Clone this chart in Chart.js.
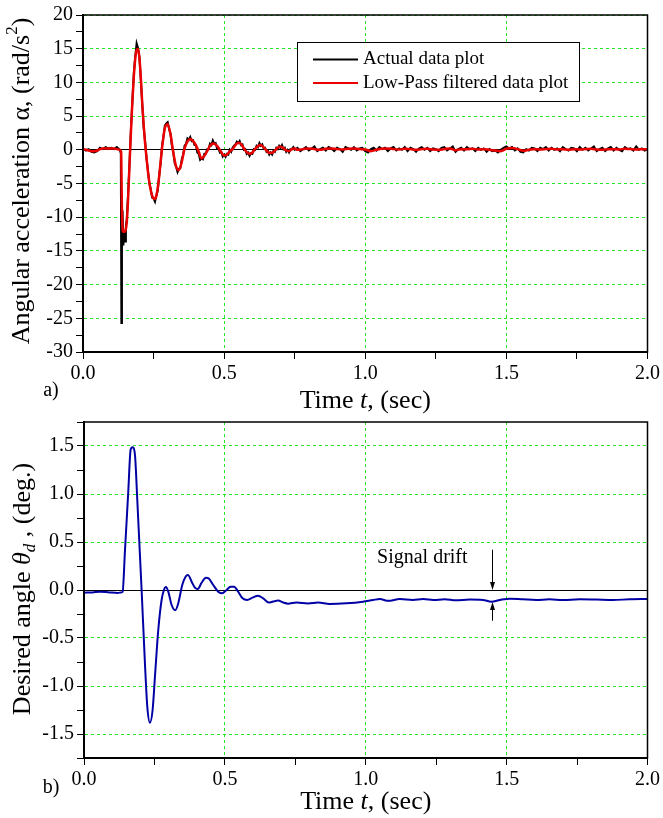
<!DOCTYPE html>
<html>
<head>
<meta charset="utf-8">
<script src="https://cdn.jsdelivr.net/npm/chart.js@4.4.0/dist/chart.umd.min.js"></script>
<style>
  body { margin: 0; background: #fff; }
  #wrap { position: relative; width: 663px; height: 818px; }
  canvas { position: absolute; left: 0; }
  #accelChart { top: 0; }
  #angleChart { top: 400px; }
</style>
</head>
<body>
<div id="wrap">
  <canvas id="accelChart" width="663" height="415"></canvas>
  <canvas id="angleChart" width="663" height="418"></canvas>
</div>
<script>
// Tick labels
const timeLabels = ['0.0', '0.5', '1.0', '1.5', '2.0'];
const accelLabels = ['-30', '-25', '-20', '-15', '-10', '-5', '0', '5', '10', '15', '20'];
const angleLabels = ['-1.5', '-1.0', '-0.5', '0.0', '0.5', '1.0', '1.5'];

// a) actual (raw) angular acceleration, rad/s^2
const actualTime = [
  0.00, 0.01, 0.02, 0.03, 0.04, 0.05, 0.06, 0.07, 0.08, 0.09, 0.10, 0.11, 0.12, 0.13,
  0.134, 0.136, 0.138, 0.140, 0.143, 0.146, 0.149, 0.152, 0.155,
  0.160, 0.165, 0.170, 0.175, 0.180, 0.185, 0.190, 0.195, 0.200, 0.205,
  0.210, 0.215, 0.220, 0.225, 0.230, 0.235, 0.240, 0.245, 0.250, 0.255,
  0.260, 0.265, 0.270, 0.275, 0.280, 0.285, 0.290, 0.295, 0.300, 0.305,
  0.310, 0.315, 0.320, 0.325, 0.330, 0.335, 0.340, 0.345, 0.350, 0.355,
  0.360, 0.365, 0.370, 0.375, 0.380, 0.385, 0.390, 0.395, 0.400, 0.405,
  0.410, 0.415, 0.420, 0.425, 0.430, 0.435, 0.440, 0.445, 0.450, 0.455,
  0.460, 0.465, 0.470, 0.475, 0.480, 0.485, 0.490, 0.495, 0.500, 0.505,
  0.510, 0.515, 0.520, 0.525, 0.530, 0.535, 0.540, 0.545, 0.550, 0.555,
  0.560, 0.565, 0.570, 0.575, 0.580, 0.585, 0.590, 0.595, 0.600, 0.605,
  0.610, 0.615, 0.620, 0.625, 0.630, 0.635, 0.640, 0.645, 0.650, 0.655,
  0.660, 0.665, 0.670, 0.675, 0.680, 0.685, 0.690, 0.695, 0.700, 0.705,
  0.710, 0.715, 0.720, 0.725, 0.730, 0.735, 0.740, 0.745, 0.750,
  0.76, 0.77, 0.78, 0.79, 0.80, 0.81, 0.82, 0.83, 0.84, 0.85,
  0.86, 0.87, 0.88, 0.89, 0.90, 0.91, 0.92, 0.93, 0.94, 0.95,
  0.96, 0.97, 0.98, 0.99, 1.00, 1.01, 1.02, 1.03, 1.04, 1.05,
  1.06, 1.07, 1.08, 1.09, 1.10, 1.11, 1.12, 1.13, 1.14, 1.15,
  1.16, 1.17, 1.18, 1.19, 1.20, 1.21, 1.22, 1.23, 1.24, 1.25,
  1.26, 1.27, 1.28, 1.29, 1.30, 1.31, 1.32, 1.33, 1.34, 1.35,
  1.36, 1.37, 1.38, 1.39, 1.40, 1.41, 1.42, 1.43, 1.44, 1.45,
  1.46, 1.47, 1.48, 1.49, 1.50, 1.51, 1.52, 1.53, 1.54, 1.55,
  1.56, 1.57, 1.58, 1.59, 1.60, 1.61, 1.62, 1.63, 1.64, 1.65,
  1.66, 1.67, 1.68, 1.69, 1.70, 1.71, 1.72, 1.73, 1.74, 1.75,
  1.76, 1.77, 1.78, 1.79, 1.80, 1.81, 1.82, 1.83, 1.84, 1.85,
  1.86, 1.87, 1.88, 1.89, 1.90, 1.91, 1.92, 1.93, 1.94, 1.95,
  1.96, 1.97, 1.98, 1.99, 2.00
];
const actualAccel = [
  0.2, -0.1, 0.1, -0.3, -0.4, -0.2, 0.3, 0.1, 0.4, 0.2, 0.3, 0.1, 0.4, 0.0,
  -0.5, -25.7, -11.5, -9.0, -14.2, -12.3, -13.6, -11.2, -10.4,
  -6.3, -1.8, 3.2, 7.3, 11.4, 13.8, 15.8, 15.1, 13.7, 10.3,
  6.7, 3.3, 1.2, -1.2, -3.0, -5.0, -5.8, -7.1, -7.2, -7.7,
  -6.8, -6.0, -3.8, -2.0, 0.6, 2.0, 3.6, 3.9, 4.1, 3.1,
  2.4, 0.6, -0.4, -2.0, -2.5, -3.3, -2.8, -2.7, -1.4, -0.7,
  0.6, 0.9, 1.7, 1.5, 1.9, 1.3, 1.4, 0.7, 0.7, -0.4,
  -0.6, -1.5, -1.3, -1.4, -0.6, -0.6, 0.1, 0.1, 0.9, 0.7,
  1.4, 0.9, 1.0, 0.2, 0.2, -0.4, -0.3, -1.0, -0.7, -1.05,
  -0.6, -0.7, 0.0, -0.3, 0.3, 0.6, 0.8, 1.2, 1.0, 1.3,
  0.7, 0.8, 0.0, 0.1, -0.6, -0.4, -0.9, -0.5, -0.6, 0.1,
  0.0, 0.6, 0.4, 1.0, 0.6, 0.8, 0.2, 0.3, -0.3, -0.1,
  -0.7, -0.4, -0.7, -0.1, -0.3, 0.3, 0.1, 0.6, 0.3, 0.7,
  0.1, 0.3, -0.3, 0.0, -0.4, 0.1, 0.1, 0.4, 0.0,
  0.3, -0.2, 0.1, 0.4, -0.1, 0.2, 0.5, -0.2, 0.1, 0.3,
  -0.1, 0.4, 0.2, -0.2, 0.3, 0.1, -0.3, 0.4, 0.2, 0.0,
  0.4, -0.1, 0.2, 0.3, -0.2, -0.4, 0.1, 0.3, -0.1, 0.4,
  0.1, 0.3, -0.2, 0.2, 0.4, -0.1, 0.2, 0.0, 0.4, -0.2,
  0.3, 0.1, -0.3, 0.2, 0.4, 0.0, 0.3, -0.2, 0.2, 0.1,
  -0.2, 0.3, 0.4, -0.1, 0.2, 0.5, -0.3, 0.1, 0.3, -0.1,
  0.4, 0.1, 0.2, -0.2, 0.3, 0.0, 0.2, -0.3, 0.1, -0.2,
  -0.1, -0.4, 0.0, 0.3, 0.5, 0.2, 0.4, -0.1, 0.2, -0.3,
  -0.4, 0.1, -0.1, 0.3, 0.2, -0.2, 0.3, 0.1, 0.4, -0.1,
  0.3, 0.0, 0.2, -0.2, 0.4, 0.1, -0.1, 0.3, 0.2, -0.2,
  0.4, 0.0, 0.3, -0.1, 0.2, 0.5, -0.2, 0.1, 0.3, -0.2,
  0.2, 0.4, -0.1, 0.3, 0.0, -0.2, 0.4, 0.1, 0.2, -0.1,
  0.5, 0.0, 0.2, -0.1, 0.1
];

// a) low-pass filtered angular acceleration
const filteredTime = [
  0.00, 0.01, 0.02, 0.03, 0.04, 0.05, 0.06, 0.07, 0.08, 0.09, 0.10, 0.11, 0.12, 0.13,
  0.135, 0.138, 0.141, 0.145, 0.150, 0.155, 0.160, 0.165, 0.170, 0.175,
  0.180, 0.185, 0.190, 0.195, 0.200, 0.205, 0.210, 0.215, 0.220, 0.225,
  0.230, 0.235, 0.240, 0.245, 0.250, 0.255, 0.260, 0.265, 0.270, 0.275,
  0.28, 0.29, 0.30, 0.31, 0.32, 0.33, 0.34, 0.35, 0.36, 0.37,
  0.38, 0.39, 0.40, 0.41, 0.42, 0.43, 0.44, 0.45, 0.46, 0.47,
  0.48, 0.49, 0.50, 0.51, 0.52, 0.53, 0.54, 0.55, 0.56, 0.57,
  0.58, 0.59, 0.60, 0.61, 0.62, 0.63, 0.64, 0.65, 0.66, 0.67,
  0.68, 0.69, 0.70, 0.71, 0.72, 0.73, 0.74, 0.75,
  0.76, 0.78, 0.80, 0.82, 0.84, 0.86, 0.88, 0.90, 0.92, 0.94,
  0.96, 0.98, 1.00, 1.02, 1.04, 1.06, 1.08, 1.10, 1.12, 1.14,
  1.16, 1.18, 1.20, 1.22, 1.24, 1.26, 1.28, 1.30, 1.32, 1.34,
  1.36, 1.38, 1.40, 1.42, 1.44, 1.46, 1.48, 1.50, 1.52, 1.54,
  1.56, 1.58, 1.60, 1.62, 1.64, 1.66, 1.68, 1.70, 1.72, 1.74,
  1.76, 1.78, 1.80, 1.82, 1.84, 1.86, 1.88, 1.90, 1.92, 1.94,
  1.96, 1.98, 2.00
];
const filteredAccel = [
  0.1, 0.0, -0.1, -0.2, -0.2, -0.1, 0.1, 0.2, 0.2, 0.2, 0.2, 0.2, 0.1, 0.0,
  -0.3, -9.0, -12.0, -12.2, -12.0, -10.8, -7.0, -2.0, 2.8, 7.2,
  10.8, 13.5, 14.8, 15.0, 13.6, 10.6, 6.8, 3.6, 1.0, -1.2,
  -3.2, -4.8, -6.0, -6.8, -7.2, -7.3, -6.8, -5.6, -3.9, -1.8,
  0.2, 3.2, 3.8, 2.3, -0.4, -2.5, -3.0, -1.8, 0.2, 1.2,
  1.6, 1.3, 0.7, -0.3, -1.3, -0.9, -0.2, 0.6, 0.95, 0.8,
  0.3, -0.4, -0.85, -0.7, -0.25, 0.1, 0.7, 1.05, 0.85, 0.2,
  -0.35, -0.6, -0.4, 0.15, 0.55, 0.72, 0.35, -0.1, -0.45, -0.45,
  -0.1, 0.3, 0.45, 0.25, -0.1, -0.2, 0.1, 0.2,
  0.0, 0.1, 0.2, 0.1, 0.0, 0.15, 0.2, 0.1, 0.05, 0.15,
  0.2, 0.1, 0.05, -0.2, 0.0, 0.15, 0.2, 0.1, 0.05, 0.15,
  0.1, 0.0, 0.1, 0.15, 0.05, 0.0, 0.1, 0.2, -0.05, 0.1,
  0.1, 0.15, 0.05, 0.1, 0.0, -0.1, -0.2, 0.15, 0.25, 0.1,
  -0.15, 0.0, 0.1, 0.05, 0.1, 0.15, 0.05, 0.1, 0.0, 0.1,
  0.05, 0.1, 0.15, 0.05, 0.0, 0.1, 0.1, 0.05, 0.15, 0.1,
  0.05, 0.1, 0.05
];

// b) desired angle, deg
const angleTime = [
  0.000, 0.030, 0.057, 0.090, 0.120, 0.132, 0.137, 0.1454, 0.1572, 0.1655,
  0.1726, 0.1809, 0.1891, 0.2045, 0.2163, 0.2246, 0.234, 0.2435, 0.2518, 0.2636,
  0.2754, 0.2837, 0.2908, 0.2991, 0.311, 0.324, 0.3345, 0.3487, 0.3605, 0.369,
  0.382, 0.3936, 0.404, 0.4173, 0.4326, 0.443, 0.4586, 0.4764, 0.490, 0.506,
  0.520, 0.533, 0.547, 0.563, 0.579, 0.598, 0.618, 0.636, 0.656, 0.671,
  0.689, 0.7068, 0.724, 0.754, 0.795, 0.831, 0.872, 0.931, 0.990, 1.026,
  1.050, 1.080, 1.121, 1.167, 1.204, 1.240, 1.280, 1.320, 1.369, 1.416,
  1.446, 1.476, 1.511, 1.558, 1.605, 1.652, 1.700, 1.759, 1.818, 1.877,
  1.936, 2.000
];
const angleDeg = [
  -0.028, -0.025, -0.018, -0.025, -0.030, -0.025, -0.020, 0.41, 1.03, 1.46,
  1.486, 1.406, 0.94, 0.0, -0.764, -1.215, -1.382, -1.25, -0.903, -0.417,
  -0.104, 0.0, 0.03, -0.017, -0.156, -0.21, -0.139, 0.052, 0.139, 0.156,
  0.087, 0.024, 0.01, 0.076, 0.128, 0.12, 0.052, -0.017, -0.035, 0.0,
  0.035, 0.035, -0.017, -0.087, -0.104, -0.08, -0.059, -0.087, -0.13, -0.12,
  -0.11, -0.13, -0.142, -0.13, -0.14, -0.13, -0.146, -0.139, -0.122, -0.104,
  -0.094, -0.113, -0.094, -0.104, -0.094, -0.104, -0.097, -0.108, -0.10, -0.104,
  -0.122, -0.104, -0.09, -0.097, -0.104, -0.097, -0.104, -0.097, -0.10, -0.104,
  -0.097, -0.094
];

// signal drift marker (time, sec)
const driftTime = 1.447;

const SERIF = '"Liberation Serif", "Times New Roman", Times, serif';
const GRID_GREEN = 'rgb(40, 228, 40)';

function onStep(v, step) {
  return Math.abs(v / step - Math.round(v / step)) < 1e-6;
}

function toPoints(xs, ys) {
  return xs.map((x, i) => ({ x: x, y: ys[i] }));
}

// linear axis: minor ticks, green dashed grid on majors, solid zero line
function makeAxis(min, max, minor, major, labels, first, fit) {
  return {
    type: 'linear',
    min: min,
    max: max,
    ticks: {
      stepSize: minor,
      autoSkip: false,
      maxRotation: 0,
      padding: 3,
      color: '#000',
      font: { family: SERIF, size: 20 },
      callback: (v) => onStep(v, major) ? labels[Math.round((v - first) / major)] : ''
    },
    grid: {
      color: (c) => {
        if (!c.tick) return '#000';
        if (Math.abs(c.tick.value) < 1e-9) return '#000';
        return onStep(c.tick.value, major) ? GRID_GREEN : 'rgba(0,0,0,0)';
      },
      lineWidth: 1,
      tickLength: 7,
      tickColor: '#000',
      tickWidth: 1
    },
    border: {
      color: '#000',
      width: 2,
      dash: (c) => (c.tick && Math.abs(c.tick.value) < 1e-9) ? [] : [3, 3]
    },
    afterFit: fit
  };
}

// text with italic / sub / sup pieces
function drawRich(ctx, parts, cx, cy, size, rotate) {
  ctx.save();
  ctx.translate(cx, cy);
  if (rotate) ctx.rotate(-Math.PI / 2);
  ctx.textBaseline = 'middle';
  ctx.textAlign = 'left';
  ctx.fillStyle = '#000';
  const fontOf = (p) => (p.italic ? 'italic ' : '') + Math.round(p.sup || p.sub ? size * 0.65 : size) + 'px ' + SERIF;
  let total = 0;
  parts.forEach((p) => { ctx.font = fontOf(p); total += ctx.measureText(p.text).width; });
  let x = -total / 2;
  parts.forEach((p) => {
    ctx.font = fontOf(p);
    const dy = p.sup ? -size * 0.38 : (p.sub ? size * 0.28 : 0);
    ctx.fillText(p.text, x, dy);
    x += ctx.measureText(p.text).width;
  });
  ctx.restore();
}

const richLabels = {
  id: 'richLabels',
  afterDraw(chart, args, opts) {
    const ctx = chart.ctx;
    const area = chart.chartArea;
    drawRich(ctx, opts.yTitle, opts.yTitleX, opts.yTitleY, opts.size, true);
    drawRich(ctx, opts.xTitle, (area.left + area.right) / 2, opts.xTitleY, opts.size, false);
    ctx.save();
    ctx.font = '20px ' + SERIF;
    ctx.fillStyle = '#000';
    ctx.textAlign = 'center';
    ctx.textBaseline = 'middle';
    ctx.fillText(opts.tag, opts.tagX, opts.tagY);
    ctx.restore();
  }
};

const frameBox = {
  id: 'frameBox',
  afterDraw(chart) {
    const { ctx, chartArea: a } = chart;
    ctx.save();
    ctx.strokeStyle = '#000';
    ctx.lineWidth = 1.5;
    ctx.strokeRect(a.left, a.top, a.right - a.left, a.bottom - a.top);
    ctx.restore();
  }
};

const boxLegend = {
  id: 'boxLegend',
  afterDraw(chart) {
    const ctx = chart.ctx;
    const left = 297, top = 42, w = 282, h = 59;
    ctx.save();
    ctx.fillStyle = '#fff';
    ctx.fillRect(left, top, w, h);
    ctx.strokeStyle = '#000';
    ctx.lineWidth = 1;
    ctx.strokeRect(left + 0.5, top + 0.5, w, h);
    chart.data.datasets.forEach((ds, i) => {
      const ly = 59.5 + i * 23.5;
      ctx.strokeStyle = ds.borderColor;
      ctx.lineWidth = 2;
      ctx.beginPath();
      ctx.moveTo(313, ly);
      ctx.lineTo(358, ly);
      ctx.stroke();
      ctx.fillStyle = '#000';
      ctx.font = '19px ' + SERIF;
      ctx.textBaseline = 'middle';
      ctx.fillText(ds.label, 363, ly);
    });
    ctx.restore();
  }
};

function arrow(ctx, x, from, to) {
  const dir = Math.sign(to - from);
  ctx.beginPath();
  ctx.moveTo(x, from);
  ctx.lineTo(x, to - dir * 6);
  ctx.stroke();
  ctx.beginPath();
  ctx.moveTo(x, to);
  ctx.lineTo(x - 2.5, to - dir * 8);
  ctx.lineTo(x + 2.5, to - dir * 8);
  ctx.closePath();
  ctx.fill();
}

const driftNote = {
  id: 'driftNote',
  afterDatasetsDraw(chart) {
    const { ctx, scales: { x, y } } = chart;
    const ax = Math.round(x.getPixelForValue(driftTime)) + 0.5;
    ctx.save();
    ctx.fillStyle = '#000';
    ctx.strokeStyle = '#000';
    ctx.lineWidth = 1;
    ctx.font = '20px ' + SERIF;
    ctx.textBaseline = 'alphabetic';
    ctx.fillText('Signal drift', x.getPixelForValue(1.04), y.getPixelForValue(0.28));
    arrow(ctx, ax, y.getPixelForValue(0.42), y.getPixelForValue(0));
    arrow(ctx, ax, y.getPixelForValue(-0.32), y.getPixelForValue(-0.125));
    ctx.restore();
  }
};

const timeTitle = [{ text: 'Time ' }, { text: 't', italic: true }, { text: ', (sec)' }];

// a) angular acceleration
new Chart(document.getElementById('accelChart'), {
  type: 'line',
  data: {
    datasets: [{
      label: 'Actual data plot',
      data: toPoints(actualTime, actualAccel),
      borderColor: '#000',
      borderWidth: 2,
      pointRadius: 0,
      tension: 0,
      order: 2
    }, {
      label: 'Low-Pass filtered data plot',
      data: toPoints(filteredTime, filteredAccel),
      borderColor: 'rgb(235, 0, 0)',
      borderWidth: 2.5,
      pointRadius: 0,
      cubicInterpolationMode: 'monotone',
      order: 1
    }]
  },
  options: {
    responsive: false,
    animation: false,
    events: [],
    layout: { padding: { top: 14, right: 14, left: 0, bottom: 0 } },
    scales: {
      x: makeAxis(0, 2, 0.25, 0.5, timeLabels, 0, (s) => { s.height = 63; }),
      y: makeAxis(-30, 20, 2.5, 5, accelLabels, -30, (s) => { s.width = 83; })
    },
    plugins: {
      legend: { display: false },
      tooltip: { enabled: false },
      richLabels: {
        size: 26,
        yTitle: [{ text: 'Angular acceleration α, (rad/s' }, { text: '2', sup: true }, { text: ')' }],
        yTitleX: 22,
        yTitleY: 181,
        xTitle: timeTitle,
        xTitleY: 401,
        tag: 'a)',
        tagX: 51,
        tagY: 391
      }
    }
  },
  plugins: [frameBox, boxLegend, richLabels]
});

// b) desired angle
new Chart(document.getElementById('angleChart'), {
  type: 'line',
  data: {
    datasets: [{
      label: 'Desired angle',
      data: toPoints(angleTime, angleDeg),
      borderColor: 'rgb(0, 0, 165)',
      borderWidth: 2,
      pointRadius: 0,
      cubicInterpolationMode: 'monotone'
    }]
  },
  options: {
    responsive: false,
    animation: false,
    events: [],
    layout: { padding: { top: 22, right: 15, left: 0, bottom: 0 } },
    scales: {
      x: makeAxis(0, 2, 0.25, 0.5, timeLabels, 0, (s) => { s.height = 60; }),
      y: makeAxis(-1.75, 1.75, 0.25, 0.5, angleLabels, -1.5, (s) => { s.width = 84; })
    },
    plugins: {
      legend: { display: false },
      tooltip: { enabled: false },
      richLabels: {
        size: 26,
        yTitle: [{ text: 'Desired angle ' }, { text: 'θ', italic: true }, { text: 'd', italic: true, sub: true }, { text: ' , (deg.)' }],
        yTitleX: 23,
        yTitleY: 189,
        xTitle: timeTitle,
        xTitleY: 402,
        tag: 'b)',
        tagX: 51,
        tagY: 388
      }
    }
  },
  plugins: [frameBox, driftNote, richLabels]
});
</script>
</body>
</html>
